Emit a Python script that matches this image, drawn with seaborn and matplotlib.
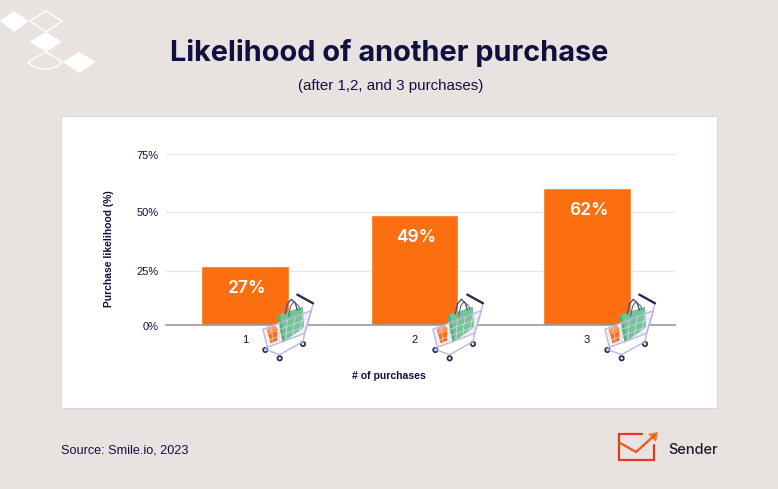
import matplotlib
matplotlib.use("Agg")
import matplotlib.pyplot as plt
from matplotlib.patches import Polygon, Rectangle, Circle
import seaborn as sns
import pandas as pd

# values (the gridlines in the source are not quite evenly spaced)
purchases = ["1", "2", "3"]
bar_heights = [26.2, 48.4, 60.2]
bar_labels = ["27%", "49%", "62%"]
y_ticks = [0, 23.9, 49.7, 75]
y_tick_labels = ["0%", "25%", "50%", "75%"]

BG = "#e8e3e0"
NAVY = "#10103f"
ORANGE = "#fb6f10"
SANS = ["Liberation Sans", "DejaVu Sans"]
W, H = 778, 489

sns.set_theme(style="white")
plt.rcParams["font.family"] = SANS

fig = plt.figure(figsize=(W / 100, 4.891), dpi=100, facecolor=BG)

# overlay in pixel coordinates for the decoration
bg = fig.add_axes([0, 0, 1, 1], zorder=0)
bg.set_xlim(0, W)
bg.set_ylim(H, 0)
bg.axis("off")
bg.add_patch(Rectangle((61, 116), 656, 292, fc="white", ec="#d5d2d0", lw=0.6))

# the chart itself
left, right, top, bottom = 166, 675, 154.5, 325.5
ax = fig.add_axes([left / W, 1 - bottom / H, (right - left) / W, (bottom - top) / H], zorder=1)
ax.patch.set_alpha(0)
df = pd.DataFrame({"purchases": purchases, "likelihood": bar_heights})
sns.barplot(data=df, x="purchases", y="likelihood", color=ORANGE, saturation=1,
            width=0.51, ax=ax, zorder=2)
ax.set_xlim(-0.462, 2.515)
ax.set_ylim(0, 75)
ax.set_yticks(y_ticks, y_tick_labels)
# middle bar sits slightly left of even spacing
ax.patches[1].set_x(ax.patches[1].get_x() - 0.01)
ax.set_xticks([0, 0.99, 2], purchases)
ax.yaxis.grid(True, color="#e6e6e6", lw=1)
ax.set_axisbelow(True)
sns.despine(ax=ax, left=True, top=True, right=True)
ax.spines["bottom"].set_color("#9a9a9a")
ax.spines["bottom"].set_linewidth(1.2)
ax.spines["bottom"].set_zorder(3)
ax.tick_params(axis="y", length=0, pad=5.4, labelsize=8, labelcolor=NAVY)
ax.tick_params(axis="x", length=0, pad=6.8, labelsize=8, labelcolor=NAVY)
ax.set_xlabel("# of purchases", fontsize=7.6, fontweight="bold", color=NAVY)
ax.set_ylabel("Purchase likelihood (%)", fontsize=7.4, fontweight="bold", color=NAVY)
ax.xaxis.set_label_coords((388.5 - left) / (right - left), -(371 - bottom) / (bottom - top))
ax.yaxis.set_label_coords(-(166 - 114) / (right - left), (bottom - 249) / (bottom - top))
for bar, lab in zip(ax.patches, bar_labels):
    ax.annotate(lab, (bar.get_x() + bar.get_width() / 2, bar.get_height()),
                xytext=(2, -22.5), textcoords="offset pixels", ha="center", va="center",
                color="white", fontsize=12.5, fontweight="semibold", family="Inter")

# foreground overlay
fg = fig.add_axes([0, 0, 1, 1], zorder=2)
fg.set_xlim(0, W)
fg.set_ylim(H, 0)
fg.axis("off")
fg.patch.set_alpha(0)


def draw_cart(ox):
    def P(pts):
        return [(ox + 258 + x / 3, 290 + y / 3) for x, y in pts]

    wire = "#b9b6e2"
    thin = "#dcdaf2"
    # bag and box
    fg.add_patch(Polygon(P([(15, 118), (160, 62), (140, 130), (28, 172)]), fc="#f3f2fb", ec="none"))
    fg.plot(*zip(*P([(82, 72), (88, 42), (100, 28), (112, 40), (118, 60)])), color="#50507a", lw=1.0)
    fg.plot(*zip(*P([(92, 78), (98, 48), (108, 35), (122, 48), (126, 58)])), color="#50507a", lw=0.7)
    fg.add_patch(Polygon(P([(58, 76), (135, 50), (138, 112), (74, 158)]), fc="#74c596", ec="none"))
    fg.add_patch(Polygon(P([(58, 76), (66, 74), (80, 152), (74, 158)]), fc="#56ad7c", ec="none"))
    fg.add_patch(Polygon(P([(26, 118), (50, 106), (58, 116), (58, 152), (38, 160)]), fc=ORANGE, ec="none"))
    fg.add_patch(Polygon(P([(26, 118), (50, 106), (58, 116), (34, 128)]), fc="#f9a06a", ec="none"))
    # basket wires
    fg.add_patch(Polygon(P([(15, 118), (160, 62), (140, 130), (28, 172)]), fc="none", ec=wire, lw=1.0))
    for t in [1 / 6, 2 / 6, 3 / 6, 4 / 6, 5 / 6]:
        a = (15 + 145 * t, 118 - 56 * t)
        b = (28 + 112 * t, 172 - 42 * t)
        fg.plot(*zip(*P([a, b])), color=thin, lw=0.5)
    for t in [1 / 3, 2 / 3]:
        a = (15 + 13 * t, 118 + 54 * t)
        b = (160 - 20 * t, 62 + 68 * t)
        fg.plot(*zip(*P([a, b])), color=thin, lw=0.5)
    # frame and handle
    fg.plot(*zip(*P([(28, 172), (20, 178), (65, 194), (135, 155), (140, 130), (160, 62), (165, 40)])),
            color=wire, lw=1.0)
    fg.plot(*zip(*P([(118, 14), (165, 40)])), color="#2a2a4f", lw=1.7, solid_capstyle="round")
    for x, y in [(22, 180), (65, 205), (135, 162)]:
        cx, cy = P([(x, y)])[0]
        fg.add_patch(Circle((cx, cy), 2.2, fc="#e8e8f4", ec="#2a2a4f", lw=1.2))


for ox in [0, 170, 342]:
    draw_cart(ox)

# corner diamonds
fg.add_patch(Polygon([(14, 11), (29, 21), (14, 32), (0, 21)], fc="white", ec="none"))
fg.add_patch(Polygon([(46, 11), (62, 21), (46, 32), (30, 21)], fc="none", ec="white", lw=1.0))
fg.add_patch(Polygon([(46, 32), (62, 42), (46, 52), (29, 42)], fc="white", ec="none"))
fg.add_patch(Polygon([(79, 52), (96, 62), (79, 73), (63, 62)], fc="white", ec="none"))
fg.plot([46, 28, 32, 38, 45, 52, 58, 62, 46], [52, 62, 66, 68.5, 69.5, 68.5, 66, 62, 52], color="white", lw=1.0)

# titles and footer
fg.text(389, 53, "Likelihood of another purchase", ha="center", va="center",
        fontsize=20.8, fontweight="bold", color=NAVY, family="Inter")
fg.text(391, 86, "(after 1,2, and 3 purchases)", ha="center", va="center",
        fontsize=10.9, color=NAVY)
fg.text(61, 450, "Source: Smile.io, 2023", ha="left", va="center", fontsize=9.1, color=NAVY)

# sender logo
red = "#e5391f"
fg.plot([642, 619, 619, 654, 654], [434.5, 434.5, 460.5, 460.5, 445], color=red, lw=1.6, solid_joinstyle="miter")
fg.plot([620, 636, 655], [443, 452, 435], color="#ef5a1c", lw=1.7)
fg.add_patch(Polygon([(658, 432), (648, 434), (656, 442)], fc="#f47a20", ec="none"))
fg.text(668, 450, "Sender", ha="left", va="center", fontsize=10.5, fontweight="medium", color="#1c1c2a", family="Inter")

fig.savefig("out.png", dpi=100, facecolor=BG)
